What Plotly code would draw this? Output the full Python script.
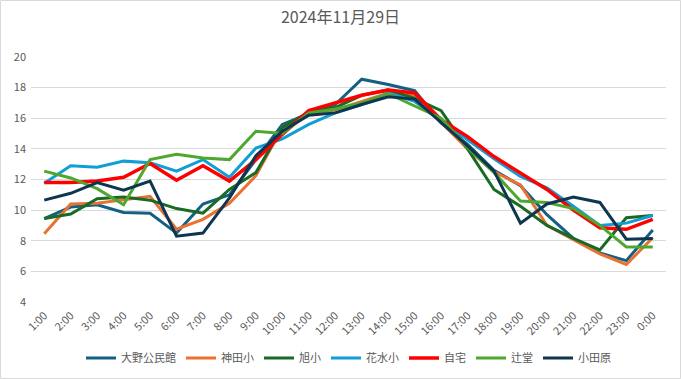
import plotly.graph_objects as go

hours = ["1:00","2:00","3:00","4:00","5:00","6:00","7:00","8:00","9:00","10:00","11:00","12:00",
         "13:00","14:00","15:00","16:00","17:00","18:00","19:00","20:00","21:00","22:00","23:00","0:00"]

ohno = [9.45,10.2,10.35,9.85,9.8,8.5,10.4,11.0,13.3,15.6,16.3,16.9,18.55,18.2,17.8,15.7,14.3,12.6,11.6,9.7,8.15,7.2,6.7,8.7]
kanda = [8.45,10.4,10.45,10.7,10.9,8.75,9.4,10.45,12.25,15.4,16.25,16.55,17.1,17.65,17.45,15.7,14.0,12.5,11.65,9.0,8.05,7.15,6.45,8.2]
asahi = [9.45,9.75,10.75,10.85,10.65,10.1,9.8,11.35,12.45,15.4,16.4,16.7,17.5,17.85,17.3,16.5,14.0,11.35,10.25,9.0,8.15,7.4,9.5,9.65]
hanamizu = [11.75,12.9,12.8,13.2,13.1,12.55,13.3,12.15,14.05,14.65,15.6,16.35,16.9,17.65,17.1,15.9,14.6,13.35,12.2,11.45,10.25,9.0,9.15,9.65]
jitaku = [11.8,11.8,11.9,12.15,13.05,11.95,12.9,11.9,13.3,14.95,16.5,17.0,17.5,17.85,17.65,15.9,14.8,13.5,12.4,11.35,10.0,8.85,8.75,9.4]
tsujido = [12.55,12.1,11.4,10.35,13.3,13.65,13.4,13.3,15.15,15.0,16.35,16.6,17.0,17.6,16.8,16.0,14.1,12.45,10.6,10.5,10.1,9.0,7.6,7.6]
odawara = [10.65,11.1,11.8,11.3,11.9,8.3,8.5,10.8,13.55,15.15,16.2,16.35,16.9,17.4,17.25,15.7,14.2,12.55,9.15,10.4,10.85,10.5,8.1,8.15]

names = ["大野公民館","神田小","旭小","花水小","自宅","辻堂","小田原"]
series = [ohno, kanda, asahi, hanamizu, jitaku, tsujido, odawara]
colors = ["#156082","#E97132","#196B24","#0F9ED5","#FF0000","#4EA72E","#0E3650"]
widths = [3,3,3,3,3.5,3,3]

fig = go.Figure()
for n, s, c, w in zip(names, series, colors, widths):
    fig.add_trace(go.Scatter(x=hours, y=s, mode="lines", name=n,
                             line=dict(color=c, width=w)))

font_family = "Noto Sans CJK JP, Noto Sans, sans-serif"
fig.update_layout(
    width=681, height=379,
    margin=dict(l=31, r=15, t=57, b=77),
    paper_bgcolor="white", plot_bgcolor="white",
    font=dict(family=font_family, color="#595959", size=11),
    title=dict(text="2024年11月29日", x=0.5, xanchor="center", y=0.955, yanchor="middle",
               font=dict(size=16, color="#595959")),
    showlegend=True,
    legend=dict(orientation="h", x=0.5, xanchor="center", yref="container",
                y=1 - 358 / 379, yanchor="middle",
                font=dict(size=11, color="#595959"), itemwidth=30, tracegroupgap=0),
    xaxis=dict(type="category", range=[-0.5, 23.5], tickangle=-45, showgrid=False, showline=False,
               ticks="", automargin=False, ticklabelstandoff=4,
               tickfont=dict(size=11, color="#595959")),
    yaxis=dict(range=[4, 20], dtick=2, showgrid=True, gridcolor="#D9D9D9", gridwidth=1,
               zeroline=False, showline=False, ticks="", automargin=False,
               ticklabelstandoff=4, tickfont=dict(size=11, color="#595959")),
    shapes=[dict(type="rect", xref="paper", yref="paper", x0=-30.5/635, x1=1+14.5/635,
                 y0=-76.5/245, y1=1+56.5/245, line=dict(color="#D9D9D9", width=1))],
)
fig.write_html("out.html", config={"displayModeBar": False},
               post_script="document.body.style.margin='0';")
